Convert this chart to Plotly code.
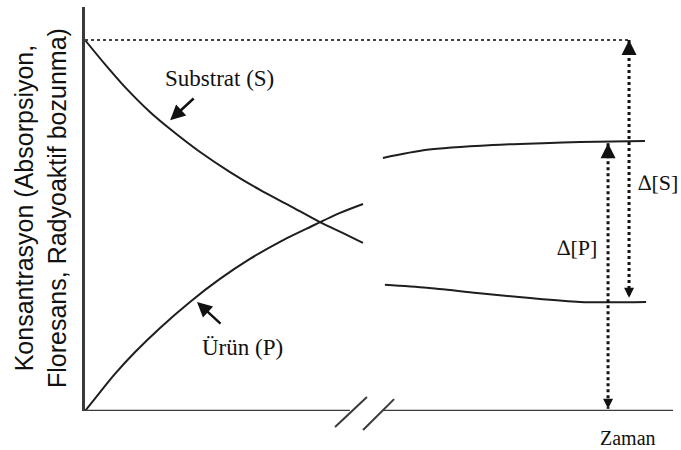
import plotly.graph_objects as go

# ---------------- data (time in arbitrary units, concentration relative to S0) ----------------
S0 = 1.0

# early phase (before the axis break)
s_early_t = [0.00, 0.71, 1.43, 2.32, 3.04, 4.11, 5.18, 6.25, 7.32, 8.39, 9.29, 9.93]
s_early_c = [1.000, 0.935, 0.873, 0.806, 0.760, 0.698, 0.644, 0.596, 0.553, 0.509, 0.477, 0.453]

p_early_t = [0.00, 0.54, 1.07, 1.79, 2.68, 3.75, 4.82, 5.89, 6.96, 8.04, 9.11, 9.93]
p_early_c = [0.000, 0.051, 0.100, 0.159, 0.224, 0.294, 0.356, 0.410, 0.456, 0.496, 0.534, 0.558]

# late phase (after the axis break)
p_late_t = [10.64, 12.21, 14.57, 16.36, 17.68, 20.00]
p_late_c = [0.682, 0.704, 0.717, 0.722, 0.725, 0.728]

s_late_t = [10.71, 12.21, 14.00, 15.79, 17.68, 20.04]
s_late_c = [0.340, 0.332, 0.318, 0.305, 0.294, 0.294]

# delta markers
dS_t = 19.43
dS_top, dS_bottom = 1.0, 0.305
dP_t = 18.68
dP_top, dP_bottom = 0.722, 0.006

# axis layout (data units)
X_MAX = 21.0
Y_MAX = 1.089
BREAK_LEFT, BREAK_RIGHT = 9.46, 10.61
# break slashes (time, concentration) endpoints
slash1 = [(8.93, -0.043), (10.07, 0.038)]
slash2 = [(9.93, -0.051), (11.04, 0.032)]

labels = {
    "substrate": "Substrat (S)",
    "product": "Ürün (P)",
    "dS": "\u2206[S]",
    "dP": "\u2206[P]",
    "xtitle": "Zaman",
    "ytitle": "Konsantrasyon (Absorpsiyon,<br>Floresans, Radyoaktif bozunma)",
}

CURVE = dict(color="#1e1e1e", width=2)
SERIF = "Liberation Serif"

fig = go.Figure()

for t, c in [(s_early_t, s_early_c), (p_early_t, p_early_c),
             (p_late_t, p_late_c), (s_late_t, s_late_c)]:
    fig.add_trace(go.Scatter(x=t, y=c, mode="lines", line=dict(CURVE, shape="spline", smoothing=0.8),
                             hoverinfo="skip", showlegend=False))

# dotted S0 reference line
fig.add_trace(go.Scatter(x=[0, dS_t], y=[S0, S0], mode="lines",
                         line=dict(color="#444", width=2, dash="dot"), showlegend=False, hoverinfo="skip"))
# dotted delta lines
fig.add_trace(go.Scatter(x=[dS_t, dS_t], y=[dS_top, dS_bottom], mode="lines",
                         line=dict(color="#111", width=3, dash="dot"), showlegend=False, hoverinfo="skip"))
fig.add_trace(go.Scatter(x=[dP_t, dP_t], y=[dP_top, dP_bottom], mode="lines",
                         line=dict(color="#111", width=3, dash="dot"), showlegend=False, hoverinfo="skip"))

# bottom axis with break
AX = dict(color="#3a3a3a", width=2.5)
fig.add_shape(type="line", x0=0, x1=BREAK_LEFT, y0=0, y1=0, line=AX)
fig.add_shape(type="line", x0=BREAK_RIGHT, x1=X_MAX, y0=0, y1=0, line=AX)

def to_paper(t, c):
    return t / X_MAX, c / Y_MAX

SL = dict(color="#3a3a3a", width=2)
for (a, b) in (slash1, slash2):
    x0, y0 = to_paper(*a)
    x1, y1 = to_paper(*b)
    fig.add_shape(type="line", xref="paper", yref="paper", x0=x0, y0=y0, x1=x1, y1=y1, line=SL)

ann = []
def arrow(x, y, ax, ay, size=1.0, width=2):
    ann.append(dict(x=x, y=y, xref="x", yref="y", ax=ax, ay=ay, text="", showarrow=True,
                    arrowhead=2, arrowsize=size, arrowwidth=width, arrowcolor="#111"))

arrow(dS_t, dS_top, 0, 12, 1.5, 2)
arrow(dS_t, dS_bottom, 0, -10, 1.0, 2)
arrow(dP_t, dP_top, 0, 12, 1.5, 2)
arrow(dP_t, dP_bottom, 0, -10, 1.0, 2)
arrow(3.04, 0.784, 25, -23, 1.2, 2.5)
arrow(4.00, 0.294, 25, 23, 1.2, 2.5)

def text(x, y, s, size=22, **kw):
    ann.append(dict(x=x, y=y, xref="x", yref="y", text=s, showarrow=False,
                    font=dict(family=SERIF, size=size, color="#111"), **kw))

text(4.82, 0.895, labels["substrate"], size=23)
text(5.61, 0.172, labels["product"], size=23)
text(17.57, 0.44, labels["dP"])
text(20.46, 0.617, labels["dS"])

ann.append(dict(x=(628 - 85) / 588, y=(411 - 438) / 404, xref="paper", yref="paper",
                text=labels["xtitle"], showarrow=False, xanchor="center", yanchor="middle",
                font=dict(family=SERIF, size=20, color="#111")))

ann.append(dict(x=(40 - 85) / 588, y=(411 - 208) / 404, xref="paper", yref="paper",
                text=labels["ytitle"], textangle=-90, showarrow=False,
                xanchor="center", yanchor="middle",
                font=dict(family="Liberation Sans", size=25, color="#111")))

fig.update_layout(
    width=681, height=450,
    margin=dict(l=85, r=8, t=7, b=39),
    paper_bgcolor="white", plot_bgcolor="white",
    annotations=ann,
    xaxis=dict(range=[0, X_MAX], showgrid=False, zeroline=False, showticklabels=False,
               ticks="", showline=False, fixedrange=True),
    yaxis=dict(range=[0, Y_MAX], showgrid=False, zeroline=False, showticklabels=False,
               ticks="", showline=True, linecolor="#3a3a3a", linewidth=2.5, fixedrange=True),
)

fig.write_html("out.html", config={"displayModeBar": False},
               post_script="document.body.style.margin='0';")
